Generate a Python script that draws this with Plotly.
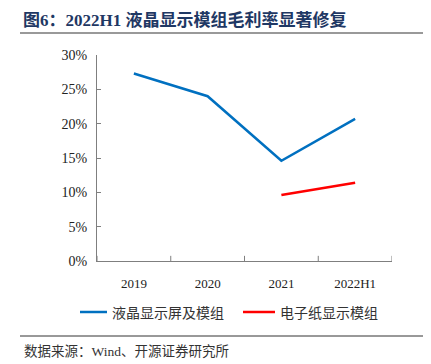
import plotly.graph_objects as go

categories = ["2019", "2020", "2021", "2022H1"]
lcd_values = [0.273, 0.240, 0.146, 0.207]
epaper_values = [None, None, 0.096, 0.114]
y_ticks = [0, 0.05, 0.10, 0.15, 0.20, 0.25, 0.30]
y_tick_labels = ["0%", "5%", "10%", "15%", "20%", "25%", "30%"]
series_names = ["液晶显示屏及模组", "电子纸显示模组"]
series_colors = ["#0070C0", "#FF0000"]
title_text = "图6：2022H1 液晶显示模组毛利率显著修复"
source_text = "数据来源：Wind、开源证券研究所"

W, H = 431, 364
OFF = 8  # page body margin offset
# target plot area in screen pixels
X0, X1, Y0, Y1 = 97, 392, 55, 261
L, R, T, B = X0 - OFF, W - (X1 - OFF), Y0 - OFF, H - (Y1 - OFF)
PW, PH = W - L - R, H - T - B


def px(x):
    return (x - OFF - L) / PW


def py(y):
    return (H - B - (y - OFF)) / PH


fig = go.Figure()
fig.add_trace(go.Scatter(x=categories, y=lcd_values, mode="lines", name=series_names[0],
                         line=dict(color=series_colors[0], width=2.5)))
fig.add_trace(go.Scatter(x=categories, y=epaper_values, mode="lines", name=series_names[1],
                         line=dict(color=series_colors[1], width=2.5)))

serif = "Liberation Serif, Times New Roman, serif"
fig.update_layout(
    width=W, height=H,
    margin=dict(l=L, r=R, t=T, b=B),
    paper_bgcolor="white", plot_bgcolor="white",
    showlegend=False,
    xaxis=dict(type="category", range=[-0.5, 3.5], showgrid=False, showline=True,
               linecolor="#7f7f7f", linewidth=1, ticks="", tickfont=dict(family=serif, size=13, color="#222"),
               ticklabelstandoff=10),
    yaxis=dict(range=[0, 0.30], tickvals=y_ticks, ticktext=y_tick_labels, showgrid=False,
               showline=True, linecolor="#7f7f7f", linewidth=1, ticks="inside", ticklen=4,
               tickcolor="#7f7f7f", zeroline=False,
               tickfont=dict(family=serif, size=14, color="#222"), ticklabelstandoff=6),
)

# x axis boundary ticks (inside) between categories
for b in [-0.5, 0.5, 1.5, 2.5, 3.5]:
    fig.add_shape(type="line", xref="x", yref="paper", x0=b, x1=b, y0=0, y1=0.025,
                  line=dict(color="#7f7f7f", width=1))

# manual legend
leg_y = py(312)
for (x0, x1, tx), name, col in zip([(80, 107, 110), (243, 275, 278)], series_names, series_colors):
    fig.add_shape(type="line", xref="paper", yref="paper", x0=px(x0), x1=px(x1), y0=leg_y, y1=leg_y,
                  line=dict(color=col, width=2.5))
    fig.add_annotation(text=name, xref="paper", yref="paper", x=px(tx), y=leg_y, xanchor="left",
                       yanchor="middle", showarrow=False,
                       font=dict(family="Noto Sans CJK SC", size=14, color="#333333"))

# title
fig.add_annotation(text="<b>" + title_text + "</b>", xref="paper", yref="paper",
                   x=px(21), y=py(20), xanchor="left", yanchor="middle",
                   showarrow=False, font=dict(family="Liberation Serif, Noto Sans CJK SC", size=17, color="#1F3864"))
fig.add_shape(type="line", xref="paper", yref="paper", x0=px(20), x1=px(W + OFF), y0=py(33), y1=py(33),
              line=dict(color="#999999", width=2))
# footer
fig.add_shape(type="line", xref="paper", yref="paper", x0=px(20), x1=px(W + OFF), y0=py(336), y1=py(336),
              line=dict(color="#333333", width=1))
fig.add_annotation(text=source_text, xref="paper", yref="paper",
                   x=px(22), y=py(351), xanchor="left", yanchor="middle",
                   showarrow=False, font=dict(family="Liberation Serif, Noto Sans CJK SC", size=13.5, color="#333333"))

fig.write_html("out.html")
